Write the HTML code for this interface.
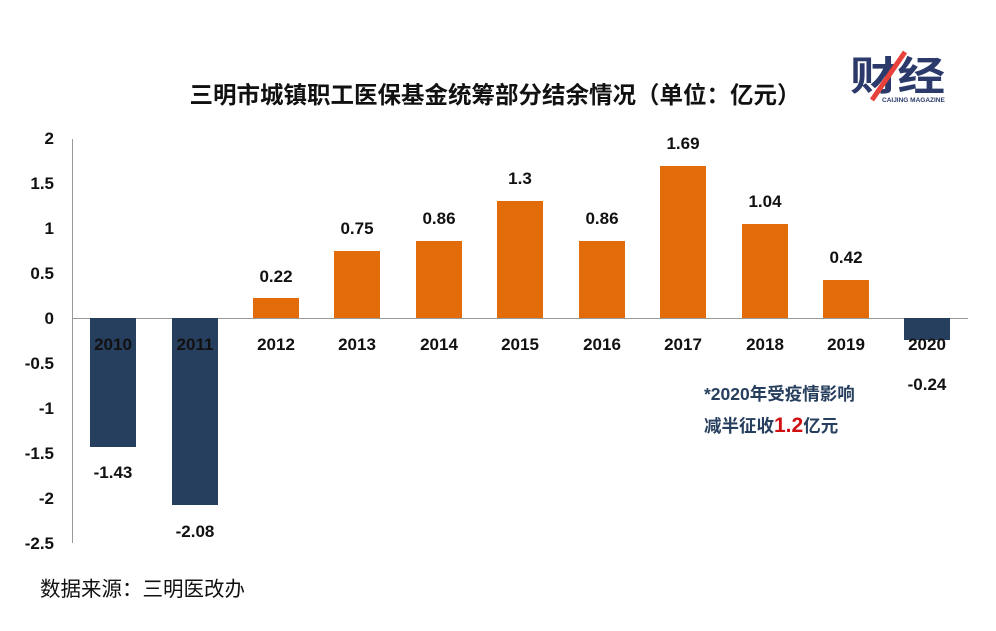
<!DOCTYPE html><html><head><meta charset="utf-8"><style>body{margin:0;background:#fff}svg{display:block}text{font-family:"Liberation Sans","Noto Sans CJK SC",sans-serif}</style></head><body>
<svg width="996" height="631" viewBox="0 0 996 631">
<text x="495" y="103" text-anchor="middle" font-size="23.5" font-weight="bold" fill="#111">三明市城镇职工医保基金统筹部分结余情况（单位：亿元）</text>
<g font-size="17" font-weight="bold" fill="#111" text-anchor="end">
<text x="54" y="144">2</text><text x="54" y="189">1.5</text><text x="54" y="234">1</text><text x="54" y="279">0.5</text><text x="54" y="324">0</text><text x="54" y="369">-0.5</text><text x="54" y="414">-1</text><text x="54" y="459">-1.5</text><text x="54" y="504">-2</text><text x="54" y="549">-2.5</text>
</g>
<line x1="72.5" y1="139" x2="72.5" y2="543" stroke="#999" stroke-width="1"/>
<line x1="72" y1="318.5" x2="968" y2="318.5" stroke="#999" stroke-width="1"/>
<g fill="#273f5e">
<rect x="90" y="318" width="46" height="129"/><rect x="172" y="318" width="46" height="187"/><rect x="904" y="318" width="46" height="22"/>
</g>
<g fill="#e36c0a">
<rect x="253" y="298" width="46" height="20"/><rect x="334" y="251" width="46" height="67"/><rect x="416" y="241" width="46" height="77"/><rect x="497" y="201" width="46" height="117"/><rect x="579" y="241" width="46" height="77"/><rect x="660" y="166" width="46" height="152"/><rect x="742" y="224" width="46" height="94"/><rect x="823" y="280" width="46" height="38"/>
</g>
<g font-size="17" font-weight="bold" fill="#111" text-anchor="middle">
<text x="113" y="350">2010</text><text x="195" y="350">2011</text><text x="276" y="350">2012</text><text x="357" y="350">2013</text><text x="439" y="350">2014</text><text x="520" y="350">2015</text><text x="602" y="350">2016</text><text x="683" y="350">2017</text><text x="765" y="350">2018</text><text x="846" y="350">2019</text><text x="927" y="350">2020</text>
<text x="113" y="478">-1.43</text><text x="195" y="537">-2.08</text><text x="927" y="390">-0.24</text>
<text x="276" y="282">0.22</text><text x="357" y="234">0.75</text><text x="439" y="224">0.86</text><text x="520" y="184">1.3</text><text x="602" y="224">0.86</text><text x="683" y="149">1.69</text><text x="765" y="207">1.04</text><text x="846" y="263">0.42</text>
</g>
<text x="704" y="400" font-size="17.5" font-weight="bold" fill="#273f5e">*2020年受疫情影响</text>
<text x="704" y="432" font-size="17.5" font-weight="bold" fill="#273f5e">减半征收<tspan fill="#d01010" font-size="21">1.2</tspan>亿元</text>
<text x="40" y="596" font-size="20.5" fill="#111">数据来源：三明医改办</text>
<g>
<text x="850" y="90" font-size="40" font-weight="bold" fill="#2b3a6b" textLength="95" lengthAdjust="spacingAndGlyphs">财经</text>
<line x1="905" y1="52" x2="872" y2="100" stroke="#e8403a" stroke-width="5"/>
<text x="882" y="102" font-size="6.5" font-weight="bold" fill="#2b3a6b">CAIJING MAGAZINE</text>
</g>
</svg></body></html>
